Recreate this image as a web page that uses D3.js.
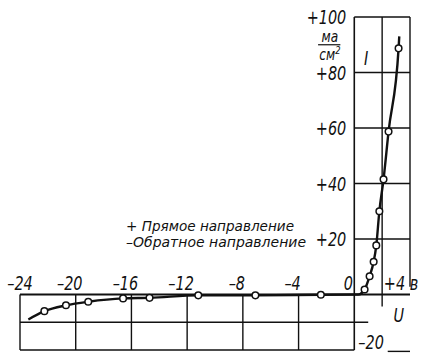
<!DOCTYPE html>
<html><head><meta charset="utf-8">
<script src="https://cdn.jsdelivr.net/npm/d3@7"></script>
<style>
body{margin:0;background:#fff}
text{font-family:"DejaVu Sans",sans-serif;font-style:italic;fill:#111}
</style>
</head><body><svg id="c" width="423" height="354"></svg>
<script>
// curve (volt-ampere characteristic), U in volts, I in mA/cm²
const curveU = [-23.4, -22.25, -20.7, -19.1, -16.6, -14.7, -11.2, -7.1, -2.4, 0.29, 0.74, 1.1, 1.39, 1.58, 1.8, 2.1, 2.46, 3.18, 3.23];
const curveI = [-9.0, -6.0, -3.9, -2.6, -1.4, -1.2, -0.3, -0.3, -0.1, 0, 1.8, 6.6, 11.8, 17.7, 30, 41.5, 58.7, 88.7, 93];
// measured points (circles)
const pointU = [-22.25, -20.7, -19.1, -16.6, -14.7, -11.2, -7.1, -2.4, 0.74, 1.1, 1.39, 1.58, 1.8, 2.1, 2.46, 3.18];
const pointI = [-6.0, -3.9, -2.6, -1.4, -1.2, -0.3, -0.3, -0.1, 1.8, 6.6, 11.8, 17.7, 30, 41.5, 58.7, 88.7];
const xTicks = [-24, -20, -16, -12, -8, -4, 0, 4];
const xTickLabels = ["\u201324", "\u201320", "\u201316", "\u201312", "\u20138", "\u20134", "0", "+4 \u0432"];
const yTicks = [20, 40, 60, 80, 100];
const yTickLabels = ["+20", "+40", "+60", "+80", "+100"];
const negLabel = "\u201320";
const legendLabels = ["+ \u041f\u0440\u044f\u043c\u043e\u0435 \u043d\u0430\u043f\u0440\u0430\u0432\u043b\u0435\u043d\u0438\u0435", "\u2013\u041e\u0431\u0440\u0430\u0442\u043d\u043e\u0435 \u043d\u0430\u043f\u0440\u0430\u0432\u043b\u0435\u043d\u0438\u0435"];
const legendWidths = [168, 180];

const svg = d3.select("#c");
const x = d3.scaleLinear().domain([-24, 4]).range([20, 410]);
const y = d3.scaleLinear().domain([-20, 100]).range([350, 17]);
const SX = 0.76;

const g = svg.append("g").attr("stroke", "#111").attr("fill", "none");
const ln = (x1, y1, x2, y2, w) => g.append("line")
  .attr("x1", x(x1)).attr("y1", y(y1)).attr("x2", x(x2)).attr("y2", y(y2))
  .attr("stroke-width", w || 1.4);

// condensed text helper
function label(px, py, str, size, anchor) {
  return svg.append("text")
    .attr("transform", `translate(${px},${py}) scale(${SX},1)`)
    .attr("text-anchor", anchor || "start").attr("font-size", size).text(str);
}

// lower grid (reverse direction)
[-24, -20, -16, -12, -8, -4].forEach(v => ln(v, 0, v, -20));
ln(-24, -10, 1, -10);
ln(-24, -20, 0, -20);
ln(2.4, -20.5, 4, -20.5);
// upper grid (forward direction)
ln(0, 100, 0, -20, 1.6);
ln(2, 100, 2, -4.3);
ln(4, 100, 4, 2.8);
yTicks.forEach(v => ln(0, v, 4, v));
// zero axis
ln(-24, 0, 4, 0, 2);

// curve
const pts = curveU.map((u, i) => [u, curveI[i]]);
svg.append("path").datum(pts)
  .attr("d", d3.line().x(d => x(d[0])).y(d => y(d[1])).curve(d3.curveMonotoneX))
  .attr("fill", "none").attr("stroke", "#111").attr("stroke-width", 2.4);

svg.selectAll("circle").data(pointU.map((u, i) => [u, pointI[i]])).join("circle")
  .attr("cx", d => x(d[0])).attr("cy", d => y(d[1])).attr("r", 3.3)
  .attr("fill", "#fff").attr("stroke", "#111").attr("stroke-width", 1.5);

// x tick labels
xTicks.forEach((v, i) => label(x(v) + (i === 0 ? 0 : (i === 7 ? -9 : -6)), y(0) - 5, xTickLabels[i], 19, "middle"));

// y tick labels
yTicks.forEach((v, i) => label(x(0) - 8, y(v) + 7, yTickLabels[i], 19, "end"));
label(x(0) + 4, y(-20) - 1, negLabel, 19, "start");

// units
label(x(-1.75), y(90) - 3, "\u043c\u0430", 16, "middle");
g.append("line").attr("x1", x(-2.6)).attr("x2", x(-1.0)).attr("y1", y(90)).attr("y2", y(90)).attr("stroke-width", 1.2);
const cm = label(x(-1.75), y(90) + 15, "", 16, "middle");
cm.append("tspan").text("\u0441\u043c");
cm.append("tspan").attr("dy", -6).attr("font-size", 11).text("2");

// axis names
label(x(0.85), y(85) + 6, "I", 19, "middle");
label(x(3.2), y(-7.5) + 7, "U", 19, "middle");

// legend
svg.selectAll("text.lg").data(legendLabels).join("text").attr("class", "lg")
  .attr("x", 126).attr("y", (d, i) => 231 + i * 16)
  .attr("font-size", 14.5)
  .attr("textLength", (d, i) => legendWidths[i]).attr("lengthAdjust", "spacingAndGlyphs")
  .text(d => d);
</script></body></html>
